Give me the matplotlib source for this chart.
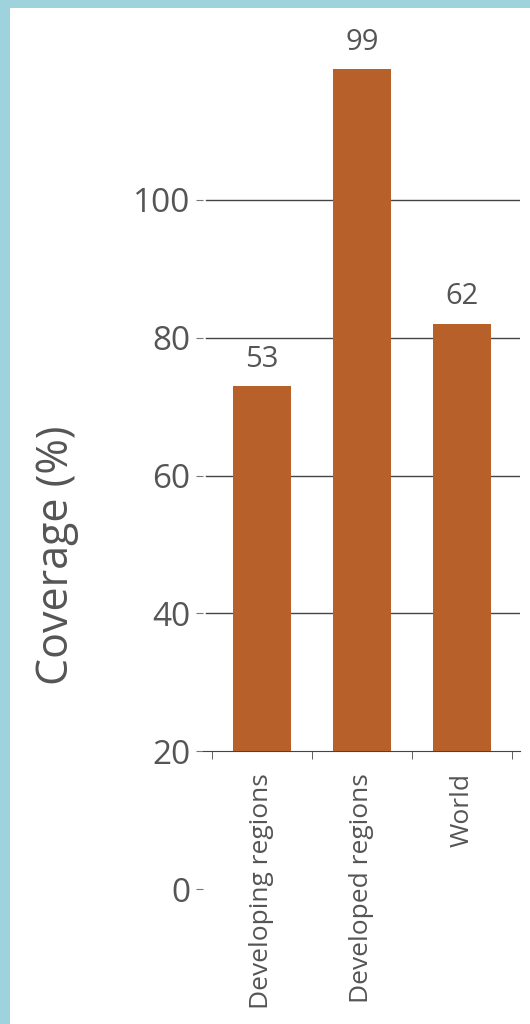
import matplotlib
matplotlib.use("Agg")
import matplotlib.pyplot as plt
from matplotlib.patches import Rectangle
import numpy as np

categories = ["Developing regions", "Developed regions", "World"]
values = [53, 99, 62]
base = 20
yticks = [0, 20, 40, 60, 80, 100]
grid_levels = [40, 60, 80, 100]

bar_color = "#b8602a"
text_color = "#555555"

plt.rcParams['font.family'] = ['Open Sans', 'DejaVu Sans']

fig = plt.figure(figsize=(5.3, 10.24), dpi=100)
fig.patch.set_facecolor("#9ed3dd")
# white panel inside the cyan frame
fig.add_artist(Rectangle((10 / 530, 0), 1, 1 - 8 / 1024, transform=fig.transFigure,
                         facecolor="white", edgecolor="none", zorder=-5))

ax = fig.add_axes([203 / 530, (1024 - 889) / 1024, 317 / 530, 889 / 1024])
ax.set_facecolor("none")
ax.set_zorder(2)

x = np.arange(len(categories))
ax.bar(x, values, bottom=base, width=0.58, color=bar_color, zorder=3)
for xi, v in zip(x, values):
    ax.text(xi, base + v + 1.8, str(v), ha="center", va="bottom",
            fontsize=21, color=text_color)

for g in grid_levels:
    ax.axhline(g, xmin=0.01, xmax=1, color="#444444", linewidth=1, zorder=1)

ax.set_xlim(-0.59, 2.58)
ax.set_ylim(0, 129)

for s in ["top", "right", "left"]:
    ax.spines[s].set_visible(False)
ax.spines["bottom"].set_position(("data", base))
ax.spines["bottom"].set_color("#444444")

ax.set_xticks(x)
ax.set_xticklabels(categories, rotation=90, fontsize=19, color=text_color)
ax.tick_params(axis="x", which="major", length=0, pad=16)
ax.set_xticks([-0.5, 0.5, 1.5, 2.5], minor=True)
ax.tick_params(axis="x", which="minor", length=6, direction="out", color="#444444")

ax.set_yticks(yticks)
ax.set_yticklabels([str(t) for t in yticks], fontsize=24, color=text_color)
ax.tick_params(axis="y", length=5, color="#777777", pad=4)

fig.text(57 / 530, 1 - 555 / 1024, "Coverage (%)", rotation=90, ha="center",
         va="center", fontsize=31, color=text_color)

fig.savefig("out.png", dpi=100, facecolor=fig.get_facecolor())
